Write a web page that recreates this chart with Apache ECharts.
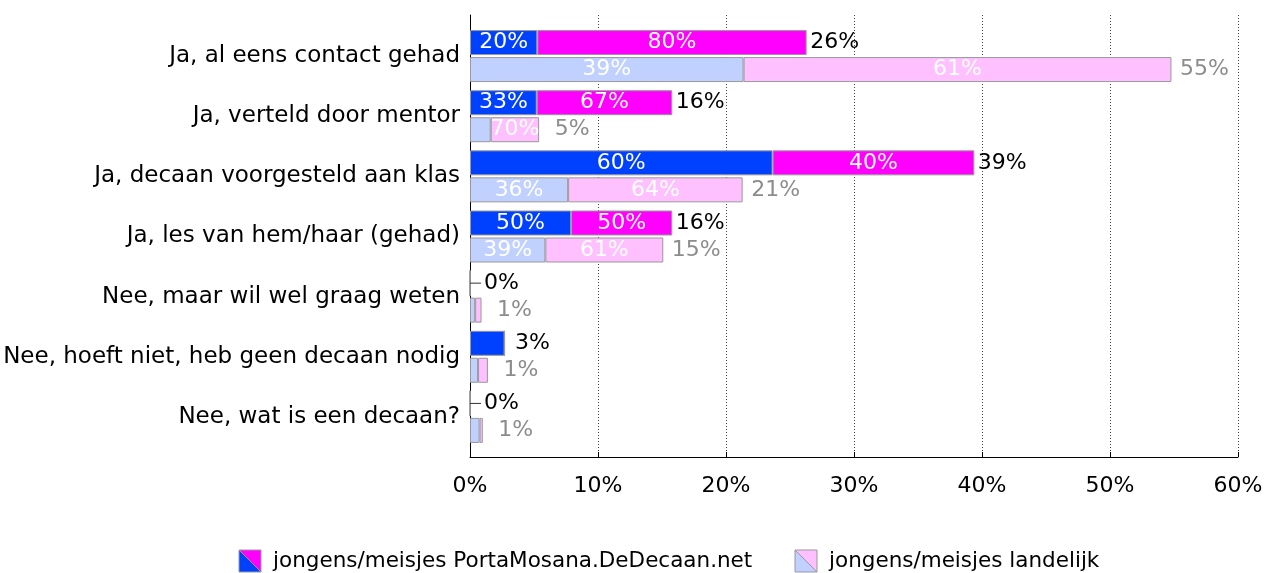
<!DOCTYPE html>
<html>
<head>
<meta charset="utf-8">
<script src="https://cdn.jsdelivr.net/npm/echarts@6/dist/echarts.min.js"></script>
<style>
  html, body { margin: 0; padding: 0; background: #fff; }
  #chart { width: 1270px; height: 573px; }
</style>
</head>
<body>
<div id="chart"></div>
<script>
const categories = [
    'Ja, al eens contact gehad',
    'Ja, verteld door mentor',
    'Ja, decaan voorgesteld aan klas',
    'Ja, les van hem/haar (gehad)',
    'Nee, maar wil wel graag weten',
    'Nee, hoeft niet, heb geen decaan nodig',
    'Nee, wat is een decaan?'
];
// share of all answers (%)
const localTotal = [26.3, 15.8, 39.4, 15.8, 0, 2.7, 0];
const nationalTotal = [54.8, 5.4, 21.3, 15.1, 0.9, 1.4, 1.0];
// share of boys within each bar (%)
const localBoys = [20, 33, 60, 50, 0, 100, 0];
const nationalBoys = [39, 30, 36, 39, 45, 45, 75];

const xTicks = [0, 10, 20, 30, 40, 50, 60];

const font = 'DejaVu Sans';
const blue = '#0040ff', magenta = '#ff00ff';
const lightBlue = '#c0d0ff', lightPink = '#ffc0ff';

function part(total, boys, girls) {
    return total.map((t, i) => {
        const share = girls ? 100 - boys[i] : boys[i];
        return { value: t * share / 100, share: share };
    });
}

function insideLabel() {
    return {
        show: true,
        position: 'inside',
        color: '#fff',
        fontFamily: font,
        fontSize: 22,
        formatter: p => p.value >= 3.5 ? p.data.share + '%' : ''
    };
}

function totalData(total, color, dist) {
    return total.map(t => {
        const txt = Math.round(t) + '%';
        if (t === 0) {
            return {
                value: 0,
                label: {
                    show: true, position: 'right', distance: 0, align: 'left',
                    color: color, fontFamily: font, fontSize: 22,
                    formatter: '{d|}{t|' + txt + '}',
                    rich: {
                        d: { width: 11, height: 1, backgroundColor: '#333' },
                        t: { color: color, fontFamily: font, fontSize: 22, padding: [0, 0, 0, 3] }
                    }
                }
            };
        }
        return {
            value: 0,
            label: {
                show: true, position: 'right', distance: dist, align: 'center',
                color: color, fontFamily: font, fontSize: 22, formatter: txt
            }
        };
    });
}

const barBase = {
    type: 'bar',
    xAxisIndex: 1,
    yAxisIndex: 1,
    barWidth: 25,
    barGap: '8%',
    stackStrategy: 'all',
    itemStyle: { borderColor: '#999', borderWidth: 1 },
    emphasis: { disabled: true }
};

const chart = echarts.init(document.getElementById('chart'));
chart.setOption({
    animation: false,
    grid: [
        { left: 470, right: 32, top: 15, bottom: 116 },
        { left: 470, right: 32, top: 26, bottom: 126 }
    ],
    xAxis: [{
        gridIndex: 0,
        type: 'value',
        min: 0, max: 60, interval: 10,
        axisLine: { show: true, lineStyle: { color: '#000', width: 1 } },
        axisTick: { show: true, inside: true, length: 5, lineStyle: { color: '#000' } },
        axisLabel: {
            margin: 18, color: '#000', fontFamily: font, fontSize: 22,
            formatter: v => xTicks.includes(v) ? v + '%' : ''
        },
        splitLine: { show: true, lineStyle: { color: '#444', type: [1, 2], width: 1 } }
    }, {
        gridIndex: 1,
        type: 'value',
        min: 0, max: 60,
        show: false
    }],
    yAxis: [{
        gridIndex: 0,
        type: 'category',
        data: [''],
        axisLine: { show: true, lineStyle: { color: '#000', width: 1 } },
        axisTick: { show: false },
        axisLabel: { show: false }
    }, {
        gridIndex: 1,
        type: 'category',
        inverse: true,
        data: categories,
        axisLine: { show: false },
        axisTick: { show: false },
        axisLabel: { margin: 10, color: '#000', fontFamily: font, fontSize: 23 }
    }],
    series: [
        Object.assign({}, barBase, {
            name: 'jongens PortaMosana', stack: 'local',
            itemStyle: { color: blue, borderColor: '#999', borderWidth: 1 },
            label: insideLabel(),
            data: part(localTotal, localBoys, false)
        }),
        Object.assign({}, barBase, {
            name: 'meisjes PortaMosana', stack: 'local',
            itemStyle: { color: magenta, borderColor: '#999', borderWidth: 1 },
            label: insideLabel(),
            data: part(localTotal, localBoys, true)
        }),
        Object.assign({}, barBase, {
            name: 'totaal PortaMosana', stack: 'local',
            itemStyle: { color: 'transparent', borderWidth: 0 },
            data: totalData(localTotal, '#000', 28)
        }),
        Object.assign({}, barBase, {
            name: 'jongens landelijk', stack: 'national',
            itemStyle: { color: lightBlue, borderColor: '#999', borderWidth: 1 },
            label: insideLabel(),
            data: part(nationalTotal, nationalBoys, false)
        }),
        Object.assign({}, barBase, {
            name: 'meisjes landelijk', stack: 'national',
            itemStyle: { color: lightPink, borderColor: '#999', borderWidth: 1 },
            label: insideLabel(),
            data: part(nationalTotal, nationalBoys, true)
        }),
        Object.assign({}, barBase, {
            name: 'totaal landelijk', stack: 'national',
            itemStyle: { color: 'transparent', borderWidth: 0 },
            data: totalData(nationalTotal, '#8c8c8c', 33)
        })
    ],
    graphic: [
        { type: 'polygon', shape: { points: [[239, 550], [239, 572], [261, 572]] }, style: { fill: blue } },
        { type: 'polygon', shape: { points: [[239, 550], [261, 550], [261, 572]] }, style: { fill: magenta } },
        { type: 'rect', shape: { x: 239, y: 550, width: 22, height: 22 }, style: { fill: null, stroke: '#999', lineWidth: 1 } },
        { type: 'line', shape: { x1: 239, y1: 550, x2: 261, y2: 572 }, style: { stroke: '#999', lineWidth: 1 } },
        { type: 'text', left: 273, top: 550, style: { text: 'jongens/meisjes PortaMosana.DeDecaan.net', fill: '#000', font: '21.5px "DejaVu Sans"' } },
        { type: 'polygon', shape: { points: [[795, 550], [795, 572], [817, 572]] }, style: { fill: lightBlue } },
        { type: 'polygon', shape: { points: [[795, 550], [817, 550], [817, 572]] }, style: { fill: lightPink } },
        { type: 'rect', shape: { x: 795, y: 550, width: 22, height: 22 }, style: { fill: null, stroke: '#999', lineWidth: 1 } },
        { type: 'line', shape: { x1: 795, y1: 550, x2: 817, y2: 572 }, style: { stroke: '#999', lineWidth: 1 } },
        { type: 'text', left: 829, top: 550, style: { text: 'jongens/meisjes landelijk', fill: '#000', font: '21.5px "DejaVu Sans"' } }
    ]
});
</script>
</body>
</html>
